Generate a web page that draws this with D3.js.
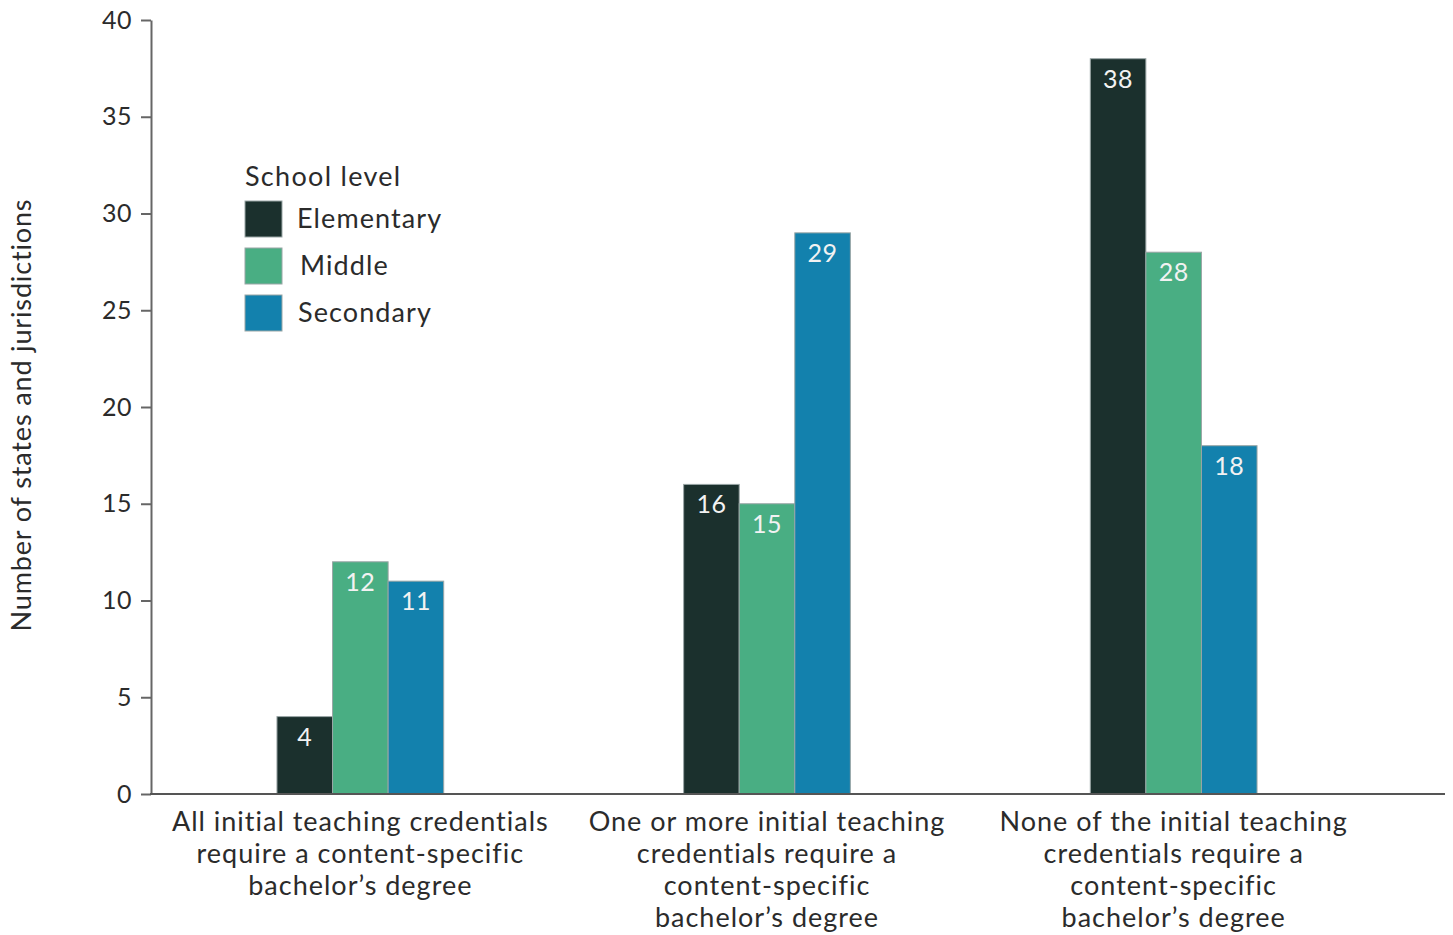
<!DOCTYPE html>
<html>
<head>
<meta charset="utf-8">
<script src="https://cdn.jsdelivr.net/npm/d3@7"></script>
<style>
  html, body { margin: 0; padding: 0; background: #fff; }
  svg { display: block; font-family: Lato, "Noto Sans", sans-serif; }
</style>
</head>
<body>
<svg id="chart" width="1453" height="935"></svg>
<script>
// Credential requirement categories (multi-line labels)
const categories = [
  "All initial teaching credentials|require a content-specific|bachelor\u2019s degree",
  "One or more initial teaching|credentials require a|content-specific|bachelor\u2019s degree",
  "None of the initial teaching|credentials require a|content-specific|bachelor\u2019s degree"
];
const seriesNames = ["Elementary", "Middle", "Secondary"];
const elementary = [4, 16, 38];
const middle = [12, 15, 28];
const secondary = [11, 29, 18];
const yTicks = [0, 5, 10, 15, 20, 25, 30, 35, 40];
const colors = ["#1b302d", "#49ae83", "#1381ad"];

const seriesValues = [elementary, middle, secondary];
const rows = categories.map((c, i) => ({
  cat: c,
  values: seriesNames.map((s, j) => ({ series: s, value: seriesValues[j][i] }))
}));

const svg = d3.select("#chart");
const textColor = "#2b2b2b";

const y = d3.scaleLinear().domain([0, 40]).range([794, 20]);
const x0 = d3.scaleBand().domain(categories).range([157, 1377])
  .paddingInner(0.59).paddingOuter(0.295);
const x1 = d3.scaleBand().domain(seriesNames).range([0, x0.bandwidth()]);
const color = d3.scaleOrdinal().domain(seriesNames).range(colors);

// Bars
const groups = svg.append("g").selectAll("g").data(rows).join("g")
  .attr("transform", d => `translate(${x0(d.cat)},0)`);

groups.selectAll("rect").data(d => d.values).join("rect")
  .attr("x", d => x1(d.series))
  .attr("y", d => y(d.value))
  .attr("width", x1.bandwidth())
  .attr("height", d => y(0) - y(d.value))
  .attr("fill", d => color(d.series))
  .attr("stroke", "#9aa6a6")
  .attr("stroke-width", 1);

groups.selectAll("text").data(d => d.values).join("text")
  .attr("x", d => x1(d.series) + x1.bandwidth() / 2)
  .attr("y", d => y(d.value) + 29)
  .attr("text-anchor", "middle")
  .attr("fill", "#f2f2f2")
  .attr("font-size", 25)
  .attr("letter-spacing", 0.5)
  .text(d => d.value);

// Y axis
const yAxis = svg.append("g")
  .attr("transform", "translate(151,0)")
  .call(d3.axisLeft(y).tickValues(yTicks).tickSize(10).tickSizeOuter(0).tickPadding(9));
yAxis.select(".domain").attr("stroke", "#666").attr("stroke-width", 2);
yAxis.selectAll(".tick line").attr("stroke", "#666").attr("stroke-width", 2);
yAxis.selectAll(".tick text").attr("fill", textColor).attr("font-size", 25)
  .attr("letter-spacing", 0.5)
  .attr("font-family", "Lato, 'Noto Sans', sans-serif");

// Baseline
svg.append("line")
  .attr("x1", 150).attr("x2", 1445)
  .attr("y1", y(0)).attr("y2", y(0))
  .attr("stroke", "#555").attr("stroke-width", 2);

// Category labels
const xAxis = svg.append("g")
  .attr("transform", `translate(0,${y(0)})`)
  .call(d3.axisBottom(x0).tickSize(0).tickFormat(() => ""));
xAxis.select(".domain").remove();
xAxis.selectAll(".tick").each(function(d) {
  const t = d3.select(this).select("text")
    .attr("fill", textColor).attr("font-size", 27)
    .attr("letter-spacing", 1)
    .attr("font-family", "Lato, 'Noto Sans', sans-serif")
    .attr("y", 0).attr("dy", null);
  d.split("|").forEach((line, i) => {
    t.append("tspan").attr("x", 0).attr("y", 37 + i * 32).text(line);
  });
});

// Y axis title
svg.append("text")
  .attr("transform", "translate(31,415) rotate(-90)")
  .attr("text-anchor", "middle")
  .attr("fill", textColor)
  .attr("font-size", 27)
  .attr("letter-spacing", 0.85)
  .text("Number of states and jurisdictions");

// Legend
const legend = svg.append("g").attr("transform", "translate(245,0)");
legend.append("text").attr("x", 0).attr("y", 186)
  .attr("fill", textColor).attr("font-size", 27)
  .attr("letter-spacing", 1.3).text("School level");
const legendY = [201, 248, 295];
const legendTextX = [52, 55, 53];
seriesNames.forEach((s, i) => {
  legend.append("rect")
    .attr("x", 0).attr("y", legendY[i])
    .attr("width", 37).attr("height", 36)
    .attr("fill", color(s))
    .attr("stroke", "#9aa6a6").attr("stroke-width", 1);
  legend.append("text")
    .attr("x", legendTextX[i]).attr("y", legendY[i] + 27)
    .attr("fill", textColor).attr("font-size", 27)
    .attr("letter-spacing", 1.1).text(s);
});
</script>
</body>
</html>
